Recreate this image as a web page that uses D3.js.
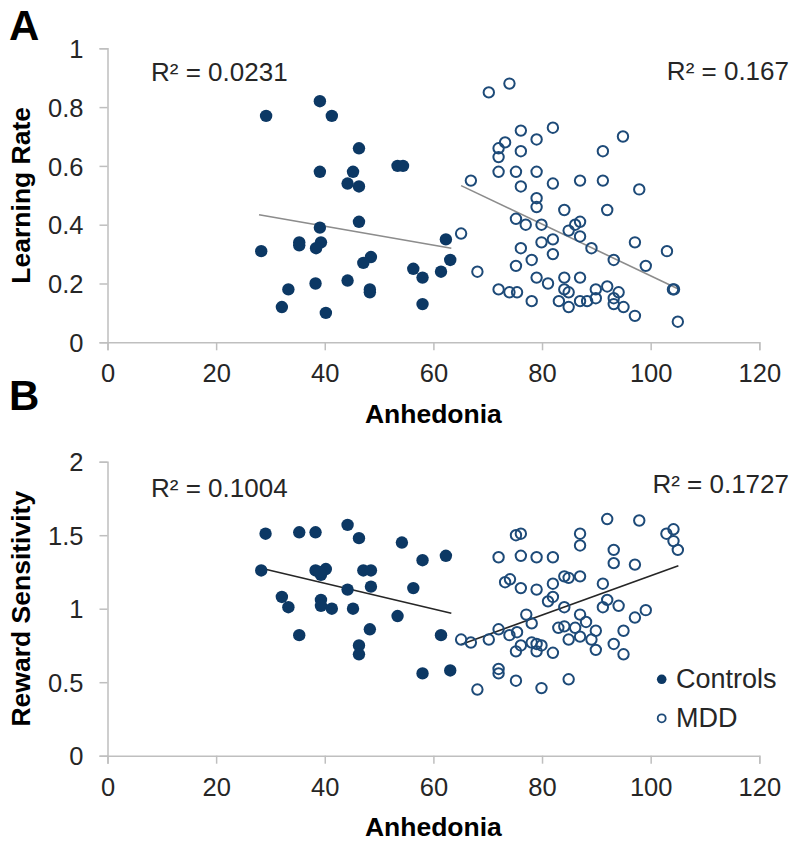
<!DOCTYPE html>
<html>
<head>
<meta charset="utf-8">
<script src="https://cdn.jsdelivr.net/npm/d3@7"></script>
<style>
  html, body { margin: 0; padding: 0; background: #fff; }
  svg text { font-family: "Liberation Sans", Arial, sans-serif; }
</style>
</head>
<body>
<svg id="chart" width="791" height="842"></svg>
<script>
// ---------- DATA ----------
const xTicks = [0, 20, 40, 60, 80, 100, 120];
const yTicksA = [0, 0.2, 0.4, 0.6, 0.8, 1];
const yTicksB = [0, 0.5, 1, 1.5, 2];
const yTickLabelsA = ["0", "0.2", "0.4", "0.6", "0.8", "1"];
const yTickLabelsB = ["0", "0.5", "1", "1.5", "2"];

// Panel A – Learning Rate
const ctrlA_x = [39.1,29.2,41.3,46.3,39.1,45.2,44.2,46.3,53.4,54.4,46.3,39.1,35.3,35.3,39.3,38.4,28.3,48.5,47.1,33.3,38.3,44.2,48.3,48.3,32.1,40.2,56.3,58.0,58.0,61.4,63.1,62.3];
const ctrlA_y = [0.82,0.77,0.77,0.66,0.58,0.58,0.54,0.53,0.60,0.60,0.41,0.39,0.34,0.33,0.34,0.32,0.31,0.29,0.27,0.18,0.20,0.21,0.18,0.17,0.12,0.10,0.25,0.22,0.13,0.24,0.28,0.35];
const mddA_x = [74.0,70.2,82.0,76.1,79.0,73.2,72.0,76.1,72.0,72.0,75.2,79.0,66.9,76.1,82.0,87.0,79.0,79.0,84.1,75.2,77.0,79.9,87.0,86.1,84.9,87.0,82.0,79.9,89.1,76.1,82.0,78.1,75.2,65.1,68.1,79.0,81.1,84.1,87.0,72.0,74.0,75.4,84.1,84.9,78.1,83.1,84.9,87.0,88.3,89.9,89.9,
  94.9,91.2,91.2,97.9,92.0,97.1,103.0,93.2,99.1,104.1,104.3,92.0,94.1,93.2,93.2,95.0,97.1,105.0];
const mddA_y = [0.88,0.85,0.73,0.72,0.69,0.68,0.66,0.65,0.63,0.58,0.58,0.58,0.55,0.53,0.54,0.55,0.49,0.46,0.45,0.42,0.40,0.40,0.41,0.40,0.38,0.36,0.35,0.34,0.32,0.32,0.30,0.28,0.26,0.37,0.24,0.22,0.20,0.22,0.22,0.18,0.17,0.17,0.18,0.17,0.14,0.14,0.12,0.14,0.14,0.15,0.18,
  0.70,0.65,0.55,0.52,0.45,0.34,0.31,0.28,0.26,0.18,0.18,0.19,0.17,0.15,0.13,0.12,0.09,0.07];

// Panel B – Reward Sensitivity
const ctrlB_x = [29.1,35.3,38.3,44.2,46.3,54.2,58.0,62.3,28.3,38.3,40.2,39.3,39.0,47.1,48.5,48.5,44.2,56.3,32.1,33.3,39.3,39.3,41.3,45.2,53.4,35.3,48.3,61.4,46.3,46.3,58.0,63.1];
const ctrlB_y = [1.51,1.52,1.52,1.57,1.48,1.45,1.33,1.36,1.26,1.26,1.27,1.23,1.25,1.26,1.26,1.15,1.13,1.14,1.08,1.01,1.06,1.02,1.00,1.00,0.95,0.82,0.86,0.82,0.75,0.69,0.56,0.58];
const mddB_x = [75.2,76.1,87.0,87.0,72.0,76.1,79.0,82.0,73.2,74.1,76.1,79.0,82.0,84.1,84.9,87.0,81.1,82.0,84.1,77.1,87.0,78.1,83.0,84.1,86.1,88.1,89.9,72.0,74.0,75.4,65.1,66.9,70.2,76.1,78.1,79.0,79.9,75.2,79.0,82.0,84.9,87.0,89.1,89.9,72.0,72.0,75.2,68.1,79.9,84.9,
  92.0,97.9,102.9,104.2,104.2,105.0,93.2,93.2,97.1,91.2,92.0,91.2,94.1,99.1,97.1,95.0,93.2,95.0];
const mddB_y = [1.50,1.51,1.51,1.43,1.35,1.36,1.35,1.35,1.18,1.20,1.14,1.13,1.17,1.22,1.21,1.22,1.05,1.08,1.01,0.96,0.96,0.90,0.87,0.88,0.87,0.91,0.85,0.86,0.82,0.84,0.79,0.77,0.79,0.75,0.77,0.76,0.75,0.71,0.71,0.70,0.79,0.81,0.79,0.72,0.59,0.56,0.51,0.45,0.46,0.52,
  1.61,1.60,1.51,1.54,1.46,1.40,1.40,1.31,1.30,1.17,1.06,1.01,1.02,0.99,0.94,0.85,0.76,0.69];

// Trend lines (endpoints)
const trendCtrlA_x = [27.9, 63.3], trendCtrlA_y = [0.434, 0.320];
const trendMddA_x  = [65.1, 105.0], trendMddA_y  = [0.533, 0.182];
const trendCtrlB_x = [28.3, 63.3], trendCtrlB_y = [1.275, 0.969];
const trendMddB_x  = [65.1, 105.1], trendMddB_y  = [0.757, 1.293];

const r2Labels = ["R² = 0.0231", "R² = 0.167", "R² = 0.1004", "R² = 0.1727"];
const seriesNames = ["Controls", "MDD"];
const panelLetters = ["A", "B"];
const yTitles = ["Learning Rate", "Reward Sensitivity"];
const xTitle = "Anhedonia";

// ---------- STYLE ----------
const navy = "#0c3864";
const ringColor = "#1d4a78";
const axisColor = "#bfbfbf";
const textColor = "#262626";

const svg = d3.select("#chart");
const x = d3.scaleLinear().domain([0, 120]).range([107.5, 759.3]);

function panel(cfg) {
  const g = svg.append("g");
  const y = d3.scaleLinear().domain(cfg.yDomain).range([cfg.y0, cfg.y1]);

  const yAx = g.append("g").attr("transform", `translate(${x(0)},0)`)
    .call(d3.axisLeft(y).tickValues(cfg.yTicks).tickFormat((d, i) => cfg.yLabels[i]).tickSizeOuter(0).tickSize(8).tickPadding(16));
  const xAx = g.append("g").attr("transform", `translate(0,${y(0)})`)
    .call(d3.axisBottom(x).tickValues(xTicks).tickFormat(d3.format("d")).tickSizeOuter(0).tickSize(8).tickPadding(14));
  [yAx, xAx].forEach(a => {
    a.selectAll("path.domain").attr("stroke", axisColor).attr("stroke-width", 1.5);
    a.selectAll(".tick line").attr("stroke", axisColor).attr("stroke-width", 1.5);
    a.selectAll(".tick text").attr("fill", textColor).style("font-size", "25.5px")
      .style("font-family", '"Liberation Sans", Arial, sans-serif');
  });
  yAx.selectAll(".tick text").attr("dy", "0.36em");

  const line = d3.line().x(d => x(d[0])).y(d => y(d[1]));
  cfg.trends.forEach(t => {
    g.append("path").datum(d3.zip(t.xs, t.ys)).attr("d", line)
      .attr("fill", "none").attr("stroke", cfg.trendColor).attr("stroke-width", 1.6);
  });

  g.append("g").selectAll("circle").data(d3.zip(cfg.cx, cfg.cy)).join("circle")
    .attr("cx", d => x(d[0])).attr("cy", d => y(d[1])).attr("r", 6.2)
    .attr("fill", navy);
  g.append("g").selectAll("circle").data(d3.zip(cfg.mx, cfg.my)).join("circle")
    .attr("cx", d => x(d[0])).attr("cy", d => y(d[1])).attr("r", 5.2)
    .attr("fill", "none").attr("stroke", ringColor).attr("stroke-width", 2);

  g.append("text").attr("x", 151).attr("y", cfg.r2y[0]).attr("fill", textColor)
    .style("font-size", "26px").text(cfg.r2[0]);
  g.append("text").attr("x", 789).attr("y", cfg.r2y[1]).attr("text-anchor", "end").attr("fill", textColor)
    .style("font-size", "26px").text(cfg.r2[1]);

  g.append("text").attr("transform", `translate(30,${(cfg.y0 + cfg.y1) / 2}) rotate(-90)`)
    .attr("text-anchor", "middle").style("font-size", "26.5px").style("font-weight", "bold")
    .attr("fill", "#000").text(cfg.yTitle);
  g.append("text").attr("x", (x(0) + x(120)) / 2).attr("y", cfg.xTitleY)
    .attr("text-anchor", "middle").style("font-size", "26.5px").style("font-weight", "bold")
    .attr("fill", "#000").text(xTitle);

  g.append("text").attr("x", 9).attr("y", cfg.letterY).style("font-size", "42px")
    .style("font-weight", "bold").attr("fill", "#000").text(cfg.letter);
  return y;
}

panel({
  yDomain: [0, 1], y0: 342.3, y1: 48.3, yTicks: yTicksA, yLabels: yTickLabelsA,
  cx: ctrlA_x, cy: ctrlA_y, mx: mddA_x, my: mddA_y,
  trends: [{xs: trendCtrlA_x, ys: trendCtrlA_y}, {xs: trendMddA_x, ys: trendMddA_y}],
  trendColor: "#8c8c8c", r2: [r2Labels[0], r2Labels[1]], r2y: [81, 80],
  yTitle: yTitles[0], xTitleY: 423, letter: panelLetters[0], letterY: 40
});

panel({
  yDomain: [0, 2], y0: 755.7, y1: 461.7, yTicks: yTicksB, yLabels: yTickLabelsB,
  cx: ctrlB_x, cy: ctrlB_y, mx: mddB_x, my: mddB_y,
  trends: [{xs: trendCtrlB_x, ys: trendCtrlB_y}, {xs: trendMddB_x, ys: trendMddB_y}],
  trendColor: "#262626", r2: [r2Labels[2], r2Labels[3]], r2y: [497, 493],
  yTitle: yTitles[1], xTitleY: 836, letter: panelLetters[1], letterY: 410
});

const legend = svg.append("g");
const legY = [679.3, 718.3];
legend.append("circle").attr("cx", 661.7).attr("cy", legY[0]).attr("r", 4.8).attr("fill", navy);
legend.append("circle").attr("cx", 661.7).attr("cy", legY[1]).attr("r", 4).attr("fill", "none")
  .attr("stroke", ringColor).attr("stroke-width", 1.8);
seriesNames.forEach((s, i) => {
  legend.append("text").attr("x", 676).attr("y", legY[i] + 9).attr("fill", textColor)
    .style("font-size", "27px").text(s);
});
</script>
</body>
</html>
